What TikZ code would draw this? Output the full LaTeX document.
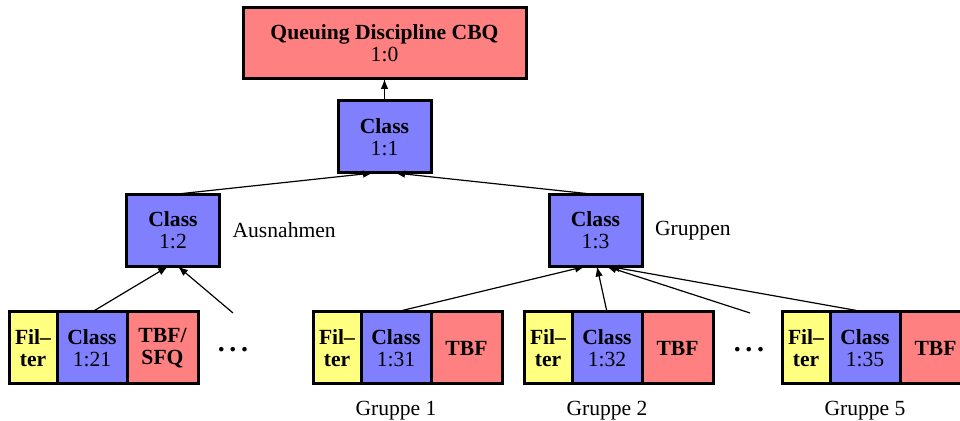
\documentclass[tikz,border=0pt]{standalone}
\usepackage{fontspec}
\setmainfont{Liberation Serif}
\usetikzlibrary{arrows.meta,positioning}

\definecolor{qred}{RGB}{255,128,128}
\definecolor{qblue}{RGB}{128,128,255}
\definecolor{qyellow}{RGB}{255,255,128}
\newcommand{\qsize}{\fontsize{10.8}{11}\selectfont}

\begin{document}
\begin{tikzpicture}[x=.5pt, y=-.5pt,
        box/.style={draw, line width=1.5pt, inner sep=0pt, outer sep=0pt,
            align=center, minimum height=36pt, font=\qsize},
        qdisc/.style={box, fill=qred, minimum width=141.5pt, minimum height=35.5pt},
        cls/.style={box, fill=qblue, minimum width=46.5pt},
        filt/.style={box, fill=qyellow, minimum width=24pt, font=\qsize\bfseries},
        leaf/.style={box, fill=qblue, minimum width=35pt},
        tbf/.style={box, fill=qred, minimum width=35.5pt, font=\qsize\bfseries},
        lbl/.style={font=\qsize},
        more/.style={inner sep=0pt, font=\fontsize{14}{14}\selectfont\bfseries},
        arr/.style={-{Latex[length=5pt, width=3.8pt]}, line width=.6pt}]
    \useasboundingbox (0, 0) rectangle (960, 421);

    % root and inner classes
    \node[qdisc] (root) at (384.5, 43.5) {\textbf{Queuing Discipline CBQ}\\1:0};
    \node[cls] (c11) at (384.5, 137) {\textbf{Class}\\1:1};
    \node[cls] (c12) at (173, 230.5) {\textbf{Class}\\1:2};
    \node[cls] (c13) at (595.5, 230.5) {\textbf{Class}\\1:3};
    \node[lbl, right=3pt of c12] (ausn) {Ausnahmen};
    \node[lbl, right=3pt of c13] (grp) {Gruppen};

    % leaf groups
    \node[filt] (f21) at (33, 348) {Fil--\\ter};
    \node[leaf, right=0pt of f21] (c121) {\textbf{Class}\\1:21};
    \node[tbf, right=0pt of c121] (t21) {TBF/\\SFQ};

    \node[filt] (f31) at (337, 348) {Fil--\\ter};
    \node[leaf, right=0pt of f31] (c131) {\textbf{Class}\\1:31};
    \node[tbf, right=0pt of c131] (t31) {TBF};

    \node[filt] (f32) at (548, 348) {Fil--\\ter};
    \node[leaf, right=0pt of f32] (c132) {\textbf{Class}\\1:32};
    \node[tbf, right=0pt of c132] (t32) {TBF};

    \node[filt] (f35) at (806, 348) {Fil--\\ter};
    \node[leaf, right=0pt of f35] (c135) {\textbf{Class}\\1:35};
    \node[tbf, right=0pt of c135] (t35) {TBF};

    \node[lbl, below=5pt of c131] (g1) {Gruppe 1};
    \node[lbl, below=5pt of c132] (g2) {Gruppe 2};
    \node[lbl, below=5pt of c135] (g5) {Gruppe 5};

    \node[more] (dA) at (233, 350) {.\,.\,.};
    \node[more] (dB) at (749, 350) {.\,.\,.};
    \coordinate (eA) at (233, 313);
    \coordinate (eB) at (750, 313);

    % connectors
    \draw[arr] (c11.north) -- (root.south);
    \draw[arr] (c12.north) -- ([xshift=-5.75pt]c11.south);
    \draw[arr] (c13.north) -- ([xshift=5.25pt]c11.south);
    \draw[arr] (c121.north) -- ([xshift=-2.5pt]c12.south);
    \draw[arr] (eA) -- ([xshift=2.5pt]c12.south);
    \draw[arr] (c131.north) -- ([xshift=-5.25pt]c13.south);
    \draw[arr] (c132.north) -- ([xshift=.75pt]c13.south);
    \draw[arr] (eB) -- ([xshift=5.5pt]c13.south);
    \draw[arr] (c135.north) -- ([xshift=7pt]c13.south);
\end{tikzpicture}
\end{document}
